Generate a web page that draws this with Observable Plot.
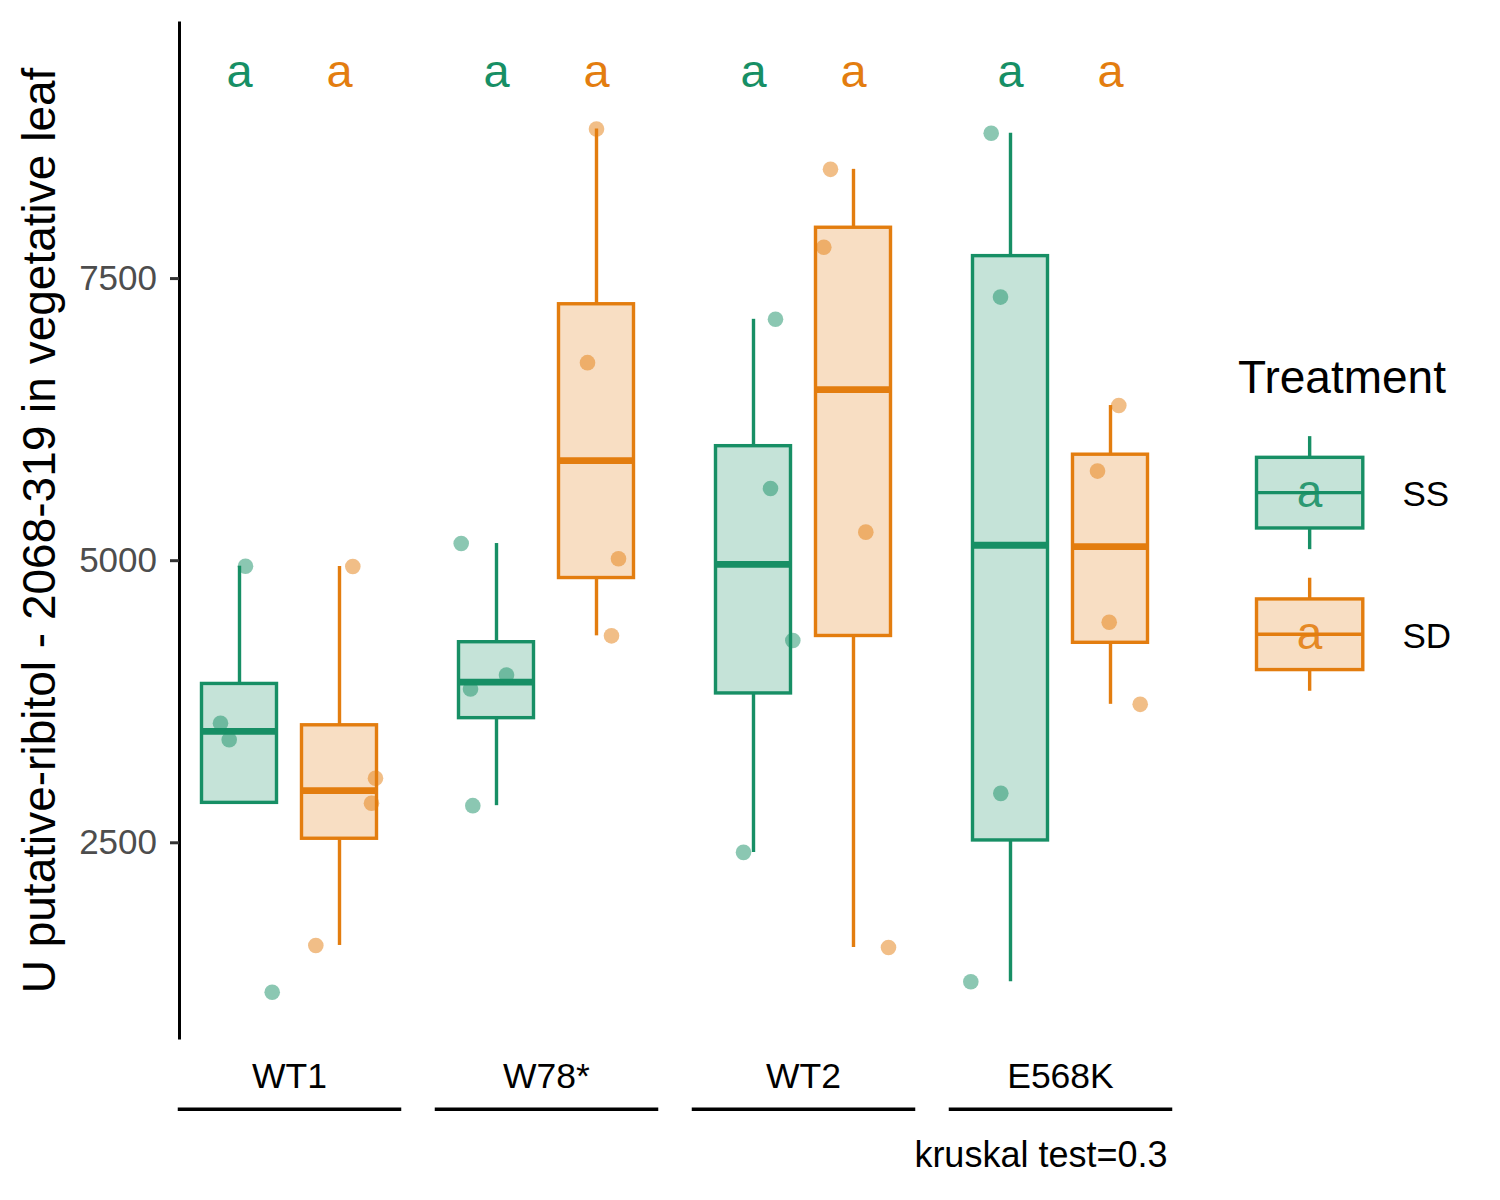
<!DOCTYPE html>
<html>
<head>
<meta charset="utf-8">
<script src="https://cdn.jsdelivr.net/npm/d3@7"></script>
<script src="https://cdn.jsdelivr.net/npm/@observablehq/plot@0.6"></script>
<style>
html, body { margin: 0; padding: 0; background: #ffffff; }
#chart { position: relative; width: 1500px; height: 1200px; font-family: "Liberation Sans", Arial, sans-serif; }
#legend { position: absolute; left: 0; top: 0; pointer-events: none; }
</style>
</head>
<body>
<div id="chart"></div>
<script>
// ---- data ----
const genotypes = ["WT1", "W78*", "WT2", "E568K"];
const treatments = ["SS", "SD"];
const treatmentPos = [1, 2];
const treatmentColors = ["#178F65", "#E37D0F"];
const yTicks = [2500, 5000, 7500];
const yLabel = "U putative-ribitol - 2068-319 in vegetative leaf";
const caption = "kruskal test=0.3";
const legendTitle = "Treatment";
const groupLetters = ["a", "a", "a", "a", "a", "a", "a", "a"];
const letterY = 9200;

const wt1SS = [4951, 3560, 3413, 1176];
const wt1SD = [4949, 3072, 2851, 1590];
const w78SS = [5152, 3986, 3863, 2829];
const w78SD = [8825, 6755, 5017, 4334];
const wt2SS = [7139, 5640, 4293, 2415];
const wt2SD = [8468, 7778, 5253, 1572];
const e568kSS = [8788, 7336, 2938, 1269];
const e568kSD = [6375, 5794, 4454, 3727];

// horizontal jitter of each point (in treatment units)
const wt1SSJit = [0.06, -0.19, -0.103, 0.327];
const wt1SDJit = [0.133, 0.36, 0.32, -0.237];
const w78SSJit = [-0.353, 0.10, -0.26, -0.237];
const w78SDJit = [0.0, -0.09, 0.22, 0.15];
const wt2SSJit = [0.22, 0.17, 0.393, -0.10];
const wt2SDJit = [-0.23, -0.297, 0.123, 0.35];
const e568kSSJit = [-0.193, -0.10, -0.097, -0.397];
const e568kSDJit = [0.083, -0.13, -0.013, 0.297];

const groupValues = [[wt1SS, wt1SD], [w78SS, w78SD], [wt2SS, wt2SD], [e568kSS, e568kSD]];
const groupJitter = [[wt1SSJit, wt1SDJit], [w78SSJit, w78SDJit], [wt2SSJit, wt2SDJit], [e568kSSJit, e568kSDJit]];

// ---- build tables ----
const rows = [];
const stats = [];
genotypes.forEach((g, gi) => {
  treatments.forEach((t, ti) => {
    const vals = groupValues[gi][ti];
    const jit = groupJitter[gi][ti];
    vals.forEach((v, k) => rows.push({genotype: g, treatment: t, pos: treatmentPos[ti], value: v, jitter: jit[k]}));
    const s = d3.sort(vals);
    const q1 = d3.quantile(s, 0.25), med = d3.quantile(s, 0.5), q3 = d3.quantile(s, 0.75);
    const iqr = q3 - q1;
    const inside = s.filter(v => v >= q1 - 1.5 * iqr && v <= q3 + 1.5 * iqr);
    stats.push({
      genotype: g, treatment: t, pos: treatmentPos[ti],
      q1, med, q3,
      lo: Math.min(q1, d3.min(inside)), hi: Math.max(q3, d3.max(inside)),
      letter: groupLetters[gi * 2 + ti]
    });
  });
});

const boxHalf = 0.375;
const font = "Liberation Sans, Arial, Helvetica, sans-serif";

const chart = Plot.plot({
  width: 1500,
  height: 1200,
  marginLeft: 179,
  marginRight: 330,
  marginTop: 22.5,
  marginBottom: 162.5,
  style: {fontFamily: font, background: "white", color: "black"},
  fx: {domain: genotypes, paddingInner: 0.144, paddingOuter: 0, label: null},
  x: {domain: [0.4, 2.6], axis: null},
  y: {domain: [770, 9765]},
  color: {domain: treatments, range: treatmentColors},
  marks: [
    Plot.ruleX(stats, {fx: "genotype", x: "pos", y1: "q3", y2: "hi", stroke: "treatment", strokeWidth: 3.4}),
    Plot.ruleX(stats, {fx: "genotype", x: "pos", y1: "lo", y2: "q1", stroke: "treatment", strokeWidth: 3.4}),
    Plot.rect(stats, {fx: "genotype", x1: d => d.pos - boxHalf, x2: d => d.pos + boxHalf, y1: "q1", y2: "q3",
      fill: "treatment", fillOpacity: 0.25, stroke: "treatment", strokeWidth: 3.4}),
    Plot.ruleY(stats, {fx: "genotype", x1: d => d.pos - boxHalf, x2: d => d.pos + boxHalf, y: "med",
      stroke: "treatment", strokeWidth: 6.8}),
    Plot.dot(rows, {fx: "genotype", x: d => d.pos + d.jitter, y: "value", r: 7.8,
      fill: "treatment", fillOpacity: 0.5, stroke: null}),
    Plot.text(stats, {fx: "genotype", x: "pos", y: () => letterY, text: "letter", fill: "treatment",
      fontSize: 47, lineAnchor: "bottom"}),
    Plot.frame({anchor: "left", facetAnchor: "left", stroke: "black", strokeWidth: 3}),
    Plot.frame({anchor: "bottom", dy: 71.3, stroke: "black", strokeWidth: 3.5}),
    Plot.axisY({ticks: yTicks, tickFormat: d => String(d), tickSize: 9, tickPadding: 13.5, fontSize: 35,
      stroke: "#333333", fill: "#4D4D4D", strokeWidth: 3, label: null}),
    Plot.axisFx({anchor: "bottom", tickSize: 0, tickPadding: 24.3, fontSize: 35.5, fill: "black", label: null}),
    Plot.text([yLabel], {text: d => d, frameAnchor: "left", facetAnchor: "left", rotate: -90, dx: -157,
      lineAnchor: "top", textAnchor: "middle", fontSize: 46, fill: "black"}),
    Plot.text([caption], {text: d => d, frameAnchor: "bottom-right", facetAnchor: "right", dx: -3, dy: 129,
      textAnchor: "end", lineAnchor: "bottom", fontSize: 36, fill: "black"})
  ]
});
document.getElementById("chart").appendChild(chart);

// ---- legend (Treatment) ----
const leg = d3.select("#chart").append("svg")
  .attr("id", "legend").attr("width", 1500).attr("height", 1200)
  .attr("font-family", font);
leg.append("text").attr("x", 1238).attr("y", 393.3).attr("font-size", 46).attr("fill", "black").text(legendTitle);
const keyX = 1238.8, keyW = 141.7, keyH = 141.3, keyTop0 = 422;
treatments.forEach((t, i) => {
  const c = treatmentColors[i];
  const K = keyTop0 + i * 141.6;
  const cx = keyX + keyW / 2;
  const g = leg.append("g");
  g.append("line").attr("x1", cx).attr("x2", cx).attr("y1", K + 0.1 * keyH).attr("y2", K + 0.25 * keyH)
    .attr("stroke", c).attr("stroke-width", 3.4);
  g.append("line").attr("x1", cx).attr("x2", cx).attr("y1", K + 0.75 * keyH).attr("y2", K + 0.9 * keyH)
    .attr("stroke", c).attr("stroke-width", 3.4);
  g.append("rect").attr("x", keyX + 0.125 * keyW).attr("width", 0.75 * keyW)
    .attr("y", K + 0.25 * keyH).attr("height", 0.5 * keyH)
    .attr("fill", c).attr("fill-opacity", 0.25).attr("stroke", c).attr("stroke-width", 3.4);
  g.append("line").attr("x1", keyX + 0.125 * keyW).attr("x2", keyX + 0.875 * keyW)
    .attr("y1", K + 0.5 * keyH).attr("y2", K + 0.5 * keyH).attr("stroke", c).attr("stroke-width", 3.4);
  g.append("text").attr("x", cx).attr("y", K + 0.5 * keyH).attr("dy", "0.32em").attr("text-anchor", "middle")
    .attr("font-size", 46).attr("fill", c).attr("fill-opacity", 0.9).text(groupLetters[i]);
  g.append("text").attr("x", 1402.5).attr("y", K + 0.5 * keyH + 13.5).attr("font-size", 35)
    .attr("fill", "black").text(t);
});
</script>
</body>
</html>
